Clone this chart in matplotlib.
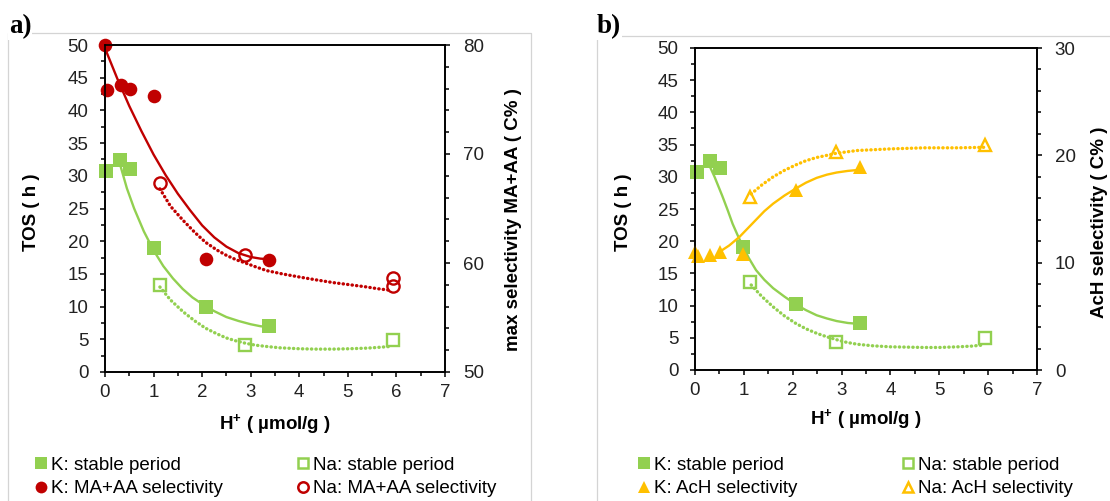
import matplotlib
matplotlib.use('Agg')
import matplotlib.pyplot as plt
from matplotlib.lines import Line2D
from matplotlib.ticker import MultipleLocator

plt.rcParams['font.family'] = ['Liberation Sans', 'DejaVu Sans']
plt.rcParams['mathtext.fontset'] = 'custom'
plt.rcParams['mathtext.rm'] = 'Liberation Sans'
plt.rcParams['mathtext.bf'] = 'Liberation Sans:bold'

GREEN = '#92D050'
RED = '#C00000'
ORANGE = '#FFC000'
FRAME = '#d4d4d4'

# ---- panel a: measured points ----
k_stable_h = [0.03, 0.31, 0.51, 1.0, 2.07, 3.38]
k_stable_tos = [30.8, 32.4, 31.1, 18.9, 9.95, 7.0]
na_stable_h = [1.13, 2.89, 5.92]
na_stable_tos = [13.3, 4.1, 4.9]
k_sel_h = [0.0, 0.05, 0.32, 0.51, 1.0, 2.07, 3.38]
k_sel = [80.0, 75.9, 76.3, 76.0, 75.3, 60.4, 60.3]
na_sel_h = [1.13, 2.89, 5.92, 5.92]
na_sel = [67.3, 60.7, 58.6, 57.9]

# ---- panel a: trend lines ----
tr_k_stable_h = [0.3, 0.45, 0.6, 0.8, 1.0, 1.2, 1.4, 1.6, 1.8, 2.0,
                 2.25, 2.5, 2.75, 3.0, 3.2, 3.38]
tr_k_stable = [32.0, 28.1, 25.0, 21.5, 18.6, 16.2, 14.3, 12.7, 11.4, 10.4,
               9.3, 8.4, 7.8, 7.3, 7.0, 6.85]
tr_na_stable_h = [1.13, 1.35, 1.61, 1.85, 2.07, 2.3, 2.5, 2.7, 2.89, 3.1,
                  3.33, 3.6, 4.02, 4.35, 4.7, 5.0, 5.39, 5.6, 5.87]
tr_na_stable = [13.0, 11.0, 9.2, 7.8, 6.7, 5.85, 5.2, 4.75, 4.4, 4.1,
                3.9, 3.7, 3.55, 3.5, 3.5, 3.55, 3.65, 3.75, 3.9]
tr_k_sel_h = [0.0, 0.25, 0.5, 0.75, 1.0, 1.25, 1.5, 1.75, 2.0, 2.25,
              2.5, 2.75, 3.0, 3.2, 3.38]
tr_k_sel = [79.7, 76.95, 74.4, 72.1, 69.95, 68.05, 66.35, 64.85, 63.45,
            62.35, 61.5, 60.9, 60.55, 60.4, 60.35]
tr_na_sel_h = [1.13, 1.35, 1.61, 1.85, 2.07, 2.3, 2.5, 2.7, 2.89, 3.1,
               3.33, 3.65, 4.02, 4.35, 4.7, 5.05, 5.39, 5.6, 5.87]
tr_na_sel = [66.8, 65.2, 63.9, 62.8, 61.9, 61.2, 60.7, 60.3, 60.0, 59.65,
             59.3, 59.0, 58.7, 58.45, 58.2, 58.0, 57.8, 57.65, 57.5]

# ---- panel b: measured points ----
b_k_stable_h = [0.05, 0.30, 0.51, 0.98, 2.06, 3.37]
b_k_stable_tos = [30.8, 32.5, 31.3, 19.1, 10.2, 7.25]
b_na_stable_h = [1.13, 2.88, 5.93]
b_na_stable_tos = [13.7, 4.35, 5.0]
k_ach_h = [0.0, 0.07, 0.30, 0.51, 0.98, 2.06, 3.37]
k_ach = [11.0, 10.6, 10.7, 11.0, 10.8, 16.8, 18.9]
na_ach_h = [1.13, 2.88, 5.93]
na_ach = [16.1, 20.3, 21.0]

# ---- panel b: trend lines ----
tr_b_k_stable_h = [0.28, 0.4, 0.56, 0.67, 0.77, 0.88, 0.98, 1.1, 1.25, 1.42,
                   1.6, 1.83, 2.06, 2.27, 2.49, 2.7, 2.9, 3.13, 3.37]
tr_b_k_stable = [32.0, 30.0, 27.0, 24.8, 22.7, 20.8, 19.2, 17.4, 15.5, 14.0,
                 12.7, 11.4, 10.2, 9.3, 8.5, 8.0, 7.6, 7.3, 7.15]
tr_b_na_stable_h = [1.15, 1.37, 1.6, 1.83, 2.06, 2.27, 2.49, 2.7, 2.9, 3.1,
                    3.32, 3.65, 4.0, 4.35, 4.69, 5.0, 5.38, 5.65, 5.93]
tr_b_na_stable = [13.2, 11.4, 9.8, 8.4, 7.25, 6.4, 5.7, 5.15, 4.7, 4.3,
                  4.0, 3.75, 3.6, 3.55, 3.5, 3.5, 3.6, 3.7, 3.9]
tr_k_ach_h = [0.5, 0.7, 0.91, 1.08, 1.25, 1.42, 1.6, 1.83, 2.06, 2.27,
              2.49, 2.7, 2.9, 3.13, 3.37]
tr_k_ach = [11.0, 11.6, 12.4, 13.2, 14.0, 14.8, 15.5, 16.25, 16.9, 17.45,
            17.9, 18.2, 18.4, 18.55, 18.65]
tr_na_ach_h = [1.15, 1.37, 1.6, 1.83, 2.06, 2.27, 2.49, 2.7, 2.9, 3.32,
               4.0, 4.69, 5.38, 5.93]
tr_na_ach = [16.4, 17.25, 18.0, 18.6, 19.1, 19.5, 19.8, 20.0, 20.2, 20.45,
             20.6, 20.7, 20.7, 20.75]

W, H = 1110, 501
fig = plt.figure(figsize=(W / 100, H / 100), dpi=100)


def fx(px):
    return px / W


def fy(py):
    return 1 - py / H


def box(l, t, r, b):
    return [fx(l), fy(b), fx(r) - fx(l), fy(t) - fy(b)]


# light grey panel frames
for xs, ys in [([7.5, 7.5, 531, 531], [H, 33, 33, H]),
               ([597, 597, W], [H, 36, 36])]:
    fig.add_artist(Line2D([fx(v) for v in xs], [fy(v) for v in ys],
                          transform=fig.transFigure, color=FRAME, lw=0.9))

ax_a = fig.add_axes(box(105, 45, 445, 372))
ax_b = fig.add_axes(box(695, 48, 1037, 370))
ax_a2 = ax_a.twinx()
ax_b2 = ax_b.twinx()


def style(ax, ax2, rmax, rmin, rmajor):
    ax.set_xlim(0, 7)
    ax.set_ylim(0, 50)
    ax2.set_ylim(rmin, rmax)
    ax.xaxis.set_major_locator(MultipleLocator(1))
    ax.xaxis.set_minor_locator(MultipleLocator(0.5))
    ax.yaxis.set_major_locator(MultipleLocator(5))
    ax.yaxis.set_minor_locator(MultipleLocator(2.5))
    ax2.yaxis.set_major_locator(MultipleLocator(rmajor))
    ax2.yaxis.set_minor_locator(MultipleLocator(2))
    for a in (ax, ax2):
        for sp in a.spines.values():
            sp.set_linewidth(1.2)
        a.tick_params(which='both', direction='out', width=1.1,
                      labelsize=13.5, labelcolor='#222222')
        a.tick_params(which='major', length=3.8)
        a.tick_params(which='minor', length=3.2)
    ax.tick_params(axis='y', pad=8)
    ax.tick_params(axis='x', pad=5)
    ax2.tick_params(axis='y', pad=9)


style(ax_a, ax_a2, 80, 50, 10)
style(ax_b, ax_b2, 30, 0, 10)

solid = dict(lw=1.7, solid_capstyle='round', solid_joinstyle='round')
dotted = dict(lw=2.4, ls=(0, (0.1, 1.25)), dash_capstyle='round')
filled = dict(ls='none', ms=9.8, mew=0, clip_on=False)
hollow = dict(ls='none', ms=8.8, mew=1.7, mfc='none', clip_on=False)

# panel a
ax_a.plot(tr_k_stable_h, tr_k_stable, color=GREEN, **solid)
ax_a.plot(tr_na_stable_h, tr_na_stable, color=GREEN, **dotted)
ax_a.plot(k_stable_h, k_stable_tos, marker='s', color=GREEN, **filled)
ax_a.plot(na_stable_h, na_stable_tos, marker='s', mec=GREEN, **hollow)
ax_a2.plot(tr_k_sel_h, tr_k_sel, color=RED, **solid)
ax_a2.plot(tr_na_sel_h, tr_na_sel, color=RED, **dotted)
ax_a2.plot(k_sel_h, k_sel, marker='o', color=RED, **filled)
ax_a2.plot(na_sel_h, na_sel, marker='o', mec=RED, **hollow)

# panel b
ax_b.plot(tr_b_k_stable_h, tr_b_k_stable, color=GREEN, **solid)
ax_b.plot(tr_b_na_stable_h, tr_b_na_stable, color=GREEN, **dotted)
ax_b.plot(b_k_stable_h, b_k_stable_tos, marker='s', color=GREEN, **filled)
ax_b.plot(b_na_stable_h, b_na_stable_tos, marker='s', mec=GREEN, **hollow)
ax_b2.plot(tr_k_ach_h, tr_k_ach, color=ORANGE, **solid)
ax_b2.plot(tr_na_ach_h, tr_na_ach, color=ORANGE, **dotted)
ax_b2.plot(k_ach_h, k_ach, marker='^', color=ORANGE, **filled)
ax_b2.plot(na_ach_h, na_ach, marker='^', mec=ORANGE, **hollow)

# axis titles
lab = dict(fontsize=13.5, fontweight='bold', ha='center', va='center')
xlab = r'H$^{\mathbf{+}}$ ( µmol/g )'
fig.text(fx(31), fy(212), 'TOS ( h )', rotation=90, **lab)
fig.text(fx(513), fy(220), 'max selectivity MA+AA ( C% )', rotation=90, **lab)
fig.text(fx(275), fy(425), xlab, **lab)
fig.text(fx(623), fy(212), 'TOS ( h )', rotation=90, **lab)
fig.text(fx(1100), fy(222), 'AcH selectivity ( C% )', rotation=90, **lab)
fig.text(fx(866), fy(420), xlab, **lab)

# panel letters
for x, t in [(9, 'a)'), (597, 'b)')]:
    fig.text(fx(x), fy(33), t, fontsize=19.5, fontweight='bold',
             family='Liberation Serif', ha='left', va='baseline',
             bbox=dict(facecolor='white', edgecolor='none', pad=0.5))


# legends
def mk(marker, color, open_=False):
    if open_:
        return Line2D([], [], ls='none', marker=marker, ms=7.5, mew=1.8,
                      mec=color, mfc='none')
    return Line2D([], [], ls='none', marker=marker, ms=8.5, mew=0, color=color)


legend_cols = [
    (33, [mk('s', GREEN), mk('o', RED)],
     ['K: stable period', 'K: MA+AA selectivity']),
    (295, [mk('s', GREEN, True), mk('o', RED, True)],
     ['Na: stable period', 'Na: MA+AA selectivity']),
    (636, [mk('s', GREEN), mk('^', ORANGE)],
     ['K: stable period', 'K: AcH selectivity']),
    (900, [mk('s', GREEN, True), mk('^', ORANGE, True)],
     ['Na: stable period', 'Na: AcH selectivity']),
]
for x, handles, labels in legend_cols:
    fig.legend(handles, labels, loc='center left',
               bbox_to_anchor=(fx(x), fy(477)),
               bbox_transform=fig.transFigure, frameon=False,
               fontsize=13.5, handlelength=0.8, handletextpad=0.15,
               labelspacing=0.35, borderpad=0, borderaxespad=0)

fig.savefig('out.png', dpi=100)
